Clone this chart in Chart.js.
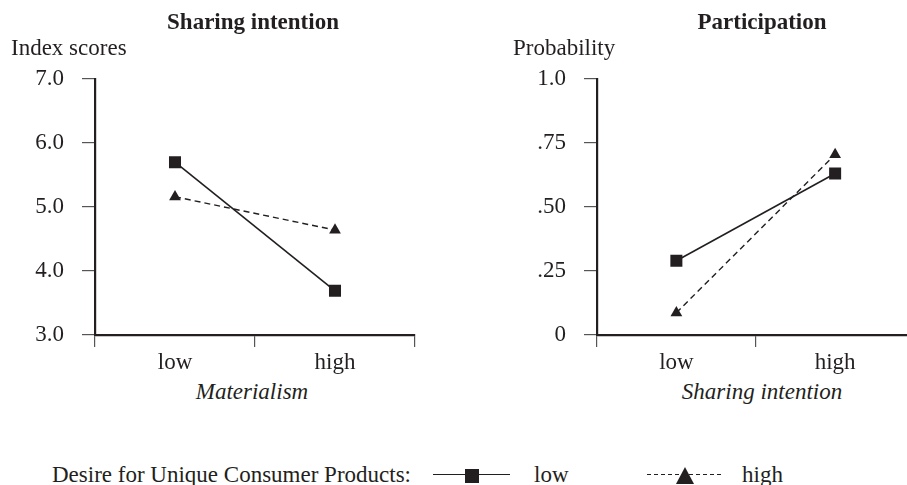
<!DOCTYPE html>
<html>
<head>
<meta charset="utf-8">
<script src="https://cdn.jsdelivr.net/npm/chart.js@4"></script>
<style>
  html, body { margin: 0; padding: 0; background: #fff; }
  body { width: 907px; height: 485px; position: relative; overflow: hidden;
         font-family: "Liberation Serif", "Times New Roman", serif; color: #231f20; }
  canvas { position: absolute; top: 0; }
  #c1 { left: 0; }
  #c2 { left: 453px; }
  .txt { position: absolute; font-size: 23px; line-height: 26px; white-space: nowrap; }
  .title { font-weight: bold; transform: translateX(-50%); }
  .xtitle { font-style: italic; transform: translateX(-50%); }
  .sym { position: absolute; }
</style>
</head>
<body>
<canvas id="c1" width="453" height="375"></canvas>
<canvas id="c2" width="470" height="375"></canvas>

<div class="txt title" style="left:253px; top:9px;">Sharing intention</div>
<div class="txt title" style="left:762px; top:9px;">Participation</div>
<div class="txt" style="left:11px; top:35px;">Index scores</div>
<div class="txt" style="left:513px; top:35px;">Probability</div>
<div class="txt xtitle" style="left:252px; top:379px;">Materialism</div>
<div class="txt xtitle" style="left:762px; top:379px;">Sharing intention</div>

<!-- legend -->
<div class="txt" style="left:52px; top:462px;">Desire for Unique Consumer Products:</div>
<div class="sym" style="left:433px; top:474px; width:77px; height:0; border-top:1.5px solid #231f20;"></div>
<div class="sym" style="left:465px; top:469px; width:14px; height:14px; background:#231f20;"></div>
<div class="txt" style="left:534px; top:462px;">low</div>
<div class="sym" style="left:647px; top:474px; width:76px; height:1px; background:repeating-linear-gradient(90deg, #231f20 0 4px, transparent 4px 7px);"></div>
<div class="sym" style="left:676px; top:467px; width:0; height:0; border-left:9px solid transparent; border-right:9px solid transparent; border-bottom:17px solid #231f20;"></div>
<div class="txt" style="left:742px; top:462px;">high</div>

<script>
const categories = ['low', 'high'];

// Sharing intention (index scores) by materialism
const sharingUniqueLow = [5.70, 3.69];
const sharingUniqueHigh = [5.16, 4.64];
const sharingTicks = ['3.0', '4.0', '5.0', '6.0', '7.0'];

// Participation probability by sharing intention
const partUniqueLow = [0.29, 0.631];
const partUniqueHigh = [0.087, 0.705];
const partTicks = ['0', '.25', '.50', '.75', '1.0'];

const ink = '#231f20';
Chart.defaults.font.family = '"Liberation Serif", "Times New Roman", serif';
Chart.defaults.font.size = 23;
Chart.defaults.color = ink;

function makeChart(id, lowVals, highVals, yMin, yMax, step, tickLabels, yWidth, padRight) {
  return new Chart(document.getElementById(id), {
    type: 'line',
    data: {
      labels: categories,
      datasets: [
        {
          label: 'low',
          data: lowVals,
          borderColor: ink,
          backgroundColor: ink,
          borderWidth: 1.6,
          pointStyle: 'rect',
          pointRadius: 8.5,
          pointHoverRadius: 8.5,
          pointBorderWidth: 0
        },
        {
          label: 'high',
          data: highVals,
          borderColor: ink,
          backgroundColor: ink,
          borderWidth: 1.4,
          borderDash: [6, 4],
          pointStyle: 'triangle',
          pointRadius: 6.8,
          pointHoverRadius: 6.8,
          pointBorderWidth: 0
        }
      ]
    },
    options: {
      responsive: false,
      animation: false,
      events: [],
      layout: { padding: { top: 79, right: padRight, left: 0, bottom: 0 } },
      plugins: { legend: { display: false }, tooltip: { enabled: false } },
      scales: {
        x: {
          offset: true,
          grid: { offset: true, drawOnChartArea: false, tickLength: 12, color: '#555', lineWidth: 1.2 },
          border: { color: ink, width: 2.2 },
          ticks: { padding: 2, color: ink },
          afterFit: s => { s.height = 40; }
        },
        y: {
          min: yMin,
          max: yMax,
          grid: { drawOnChartArea: false, tickLength: 13, color: '#555', lineWidth: 1.2 },
          border: { color: ink, width: 2.2 },
          ticks: { stepSize: step, padding: 18, color: ink, callback: (v, i) => tickLabels[i] },
          afterFit: s => { s.width = yWidth; }
        }
      }
    }
  });
}

makeChart('c1', sharingUniqueLow, sharingUniqueHigh, 3, 7, 1, sharingTicks, 95, 38);
makeChart('c2', partUniqueLow, partUniqueHigh, 0, 1, 0.25, partTicks, 144, 5);
</script>
</body>
</html>
